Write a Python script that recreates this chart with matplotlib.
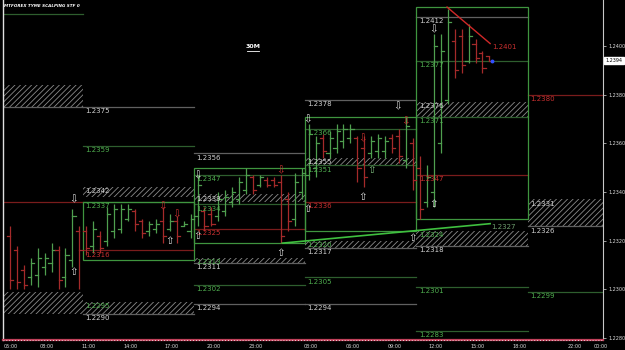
import matplotlib
matplotlib.use('Agg')
import matplotlib.pyplot as plt
from matplotlib.patches import Rectangle
from matplotlib.lines import Line2D

plt.rcParams['hatch.linewidth'] = 0.6
plt.rcParams['font.family'] = ['DejaVu Sans']

# ---------------- data ----------------
# 30-minute OHLC bars (index 0..69)
bar_open = [1.2322, 1.2316, 1.2308, 1.2305, 1.2306, 1.2309, 1.2311, 1.2316, 1.2305, 1.2312,
            1.2324, 1.2324, 1.2318, 1.2322, 1.2320, 1.2324, 1.2325, 1.2329, 1.2332, 1.2328,
            1.2324, 1.2325, 1.2328, 1.2325, 1.2328, 1.2326, 1.2324, 1.2330, 1.2332, 1.2331,
            1.2330, 1.2332, 1.2336, 1.2337, 1.2341, 1.2346, 1.2343, 1.2345, 1.2345, 1.2344,
            1.2337, 1.2329, 1.2340, 1.2347, 1.2350, 1.2362, 1.2356, 1.2358, 1.2361, 1.2362,
            1.2362, 1.2358, 1.2356, 1.2357, 1.2357, 1.2362, 1.2363, 1.2353, 1.2360, 1.2350,
            1.2336, 1.2340, 1.2360, 1.2378, 1.2402, 1.2404, 1.2394, 1.2401, 1.2397, 1.2396]
bar_high = [1.2326, 1.2318, 1.2310, 1.2313, 1.2317, 1.2315, 1.2319, 1.2318, 1.2317, 1.2333,
            1.2326, 1.2326, 1.2328, 1.2324, 1.2334, 1.2335, 1.2335, 1.2335, 1.2333, 1.2329,
            1.2328, 1.2329, 1.2334, 1.2331, 1.2330, 1.2328, 1.2331, 1.2347, 1.2334, 1.2334,
            1.2340, 1.2341, 1.2342, 1.2346, 1.2350, 1.2347, 1.2347, 1.2346, 1.2346, 1.2347,
            1.2340, 1.2348, 1.2350, 1.2368, 1.2363, 1.2364, 1.2365, 1.2368, 1.2368, 1.2368,
            1.2363, 1.2363, 1.2363, 1.2364, 1.2363, 1.2364, 1.2366, 1.2371, 1.2362, 1.2355,
            1.2351, 1.2405, 1.2405, 1.2415, 1.2407, 1.2407, 1.2409, 1.2403, 1.2398, 1.2396]
bar_low = [1.2300, 1.2300, 1.2300, 1.2302, 1.2301, 1.2306, 1.2307, 1.2300, 1.2301, 1.2309,
           1.2300, 1.2314, 1.2315, 1.2315, 1.2318, 1.2321, 1.2323, 1.2328, 1.2324, 1.2321,
           1.2322, 1.2323, 1.2319, 1.2324, 1.2319, 1.2326, 1.2321, 1.2326, 1.2324, 1.2326,
           1.2328, 1.2330, 1.2334, 1.2335, 1.2339, 1.2339, 1.2342, 1.2342, 1.2342, 1.2319,
           1.2324, 1.2326, 1.2337, 1.2345, 1.2346, 1.2354, 1.2354, 1.2356, 1.2358, 1.2360,
           1.2344, 1.2342, 1.2354, 1.2354, 1.2354, 1.2356, 1.2352, 1.2350, 1.2341, 1.2329,
           1.2334, 1.2334, 1.2356, 1.2376, 1.2387, 1.2389, 1.2393, 1.2393, 1.2389, 1.2394]
bar_close = [1.2304, 1.2303, 1.2302, 1.2311, 1.2313, 1.2313, 1.2316, 1.2304, 1.2314, 1.2330,
             1.2316, 1.2317, 1.2325, 1.2317, 1.2331, 1.2333, 1.2333, 1.2333, 1.2327, 1.2323,
             1.2327, 1.2327, 1.2322, 1.2328, 1.2322, 1.2327, 1.2329, 1.2343, 1.2326, 1.2327,
             1.2337, 1.2338, 1.2340, 1.2344, 1.2347, 1.2341, 1.2346, 1.2343, 1.2343, 1.2322,
             1.2328, 1.2344, 1.2348, 1.2364, 1.2360, 1.2357, 1.2362, 1.2365, 1.2366, 1.2366,
             1.2350, 1.2346, 1.2361, 1.2362, 1.2361, 1.2358, 1.2355, 1.2367, 1.2345, 1.2333,
             1.2346, 1.2400, 1.2398, 1.2410, 1.2390, 1.2392, 1.2404, 1.2395, 1.2391, 1.2394]

# session blocks (in bar-index units)
block_start = [-1.0, 10.5, 26.5, 42.5, 58.5, 74.5]
block_end = [10.5, 26.5, 42.5, 58.5, 74.5, 85.4]

# horizontal levels: block, price, colour kind, label
line_block = [0, 0, 0,
              1, 1, 1, 1, 1,
              2, 2, 2, 2, 2, 2, 2,
              3, 3, 3, 3, 3, 3, 3,
              4, 4, 4, 4, 4, 4, 4,
              5, 5, 5]
line_price = [1.2413, 1.2375, 1.2336,
              1.2375, 1.2359, 1.2336, 1.2316, 1.2290,
              1.2356, 1.2347, 1.2335, 1.2325, 1.2311, 1.2302, 1.2294,
              1.2378, 1.2366, 1.2351, 1.2336, 1.2317, 1.2305, 1.2294,
              1.2412, 1.2394, 1.2371, 1.2347, 1.2318, 1.2301, 1.2283,
              1.2380, 1.2326, 1.2299]
line_kind = ['g', 'w', 'r',
             'w', 'g', 'g', 'r', 'w',
             'w', 'g', 'g', 'r', 'w', 'g', 'w',
             'w', 'g', 'g', 'r', 'w', 'g', 'w',
             'w', 'g', 'g', 'r', 'w', 'g', 'g',
             'r', 'w', 'g']
line_label = ['', '', '',
              '1.2375', '1.2359', '1.2337', '1.2316', '1.2290',
              '1.2356', '1.2347', '1.2334', '1.2325', '1.2311', '1.2302', '1.2294',
              '1.2378', '1.2366', '1.2351', '1.2336', '1.2317', '1.2305', '1.2294',
              '1.2412', '1.2377', '1.2371', '1.2347', '1.2318', '1.2301', '1.2283',
              '1.2380', '1.2326', '1.2299']

# hatched zones: block, top, bottom, label
zone_block = [0, 0, 1, 1, 2, 2, 3, 3, 4, 4, 5]
zone_top = [1.2384, 1.2299, 1.2342, 1.2295, 1.2339, 1.2313, 1.2354, 1.2320, 1.2377, 1.2324, 1.2337]
zone_bottom = [1.2375, 1.2290, 1.2338, 1.2290, 1.2336, 1.2311, 1.2351, 1.2317, 1.2371, 1.2318, 1.2326]
zone_label = ['', '', '1.2342', '1.2295', '1.2339', '1.2313', '1.2355', '1.2320', '1.2376', '1.2324', '1.2331']
zone_kind = ['w', 'w', 'w', 'g', 'w', 'g', 'w', 'g', 'w', 'g', 'w']

# session boxes: block, top, bottom
box_block = [1, 2, 3, 4]
box_top = [1.2336, 1.2350, 1.2371, 1.2416]
box_bottom = [1.2312, 1.2319, 1.2324, 1.2329]

# signal arrows
arrow_x = [9.1, 9.1, 22.0, 24.0, 23.0, 27.0, 27.0, 39.0, 39.0, 42.9, 42.9, 50.8, 50.8, 52.0,
           55.8, 56.9, 58.0, 60.9, 60.9]
arrow_p = [1.2337, 1.2307, 1.2334, 1.2331, 1.2320, 1.2347, 1.2322, 1.2349, 1.2315, 1.2370,
           1.2333, 1.2362, 1.2338, 1.2349, 1.2375, 1.2369, 1.2321, 1.2407, 1.2335]
arrow_dir = ['d', 'u', 'd', 'd', 'u', 'd', 'u', 'd', 'u', 'd', 'u', 'd', 'u', 'u', 'd', 'd', 'u', 'd', 'u']
arrow_col = ['w', 'w', 'r', 'r', 'w', 'w', 'w', 'r', 'w', 'w', 'w', 'r', 'w', 'g', 'w', 'r', 'w', 'w', 'w']

# trend lines
green_trend_x = [39.2, 69.1]
green_trend_p = [1.2319, 1.2327]
red_trend_x = [62.9, 69.1]
red_trend_p = [1.2416, 1.2401]
current_price = 1.2394
current_x = 69.4

# axes labels
time_labels = ['05:00', '08:00', '11:00', '14:00', '17:00', '20:00', '23:00', '03:00',
               '06:00', '09:00', '12:00', '15:00', '18:00', '22:00', '00:00']
time_pos = [0.1, 5.3, 11.3, 17.3, 23.3, 29.3, 35.3, 43.3, 49.3, 55.3, 61.3, 67.3, 73.3, 81.3, 85.0]
price_ticks = [1.2280, 1.2300, 1.2320, 1.2340, 1.2360, 1.2380, 1.2400]

# ---------------- styling ----------------
BAR_G = '#4f9f4f'
BAR_R = '#a52a2a'
LINE_COL = {'w': '#606060', 'g': '#2e5e2e', 'r': '#7a1c1c'}
TXT_COL = {'w': '#d0d0d0', 'g': '#4fae4f', 'r': '#c83030'}
ARROW_COL = {'w': '#e0e0e0', 'r': '#c83030', 'g': '#7fbf7f'}
BOX_COL = '#3f953f'
FS = 5

fig = plt.figure(figsize=(6.25, 3.5), dpi=100, facecolor='black')
ax = fig.add_axes([3 / 625, 10 / 350, 600 / 625, 340 / 350])
ax.set_facecolor('black')
ax.set_xlim(-0.99, 85.34)
ax.set_ylim(1.22792, 1.24189)

# hatched zones
for b, t, bt, lab, k in zip(zone_block, zone_top, zone_bottom, zone_label, zone_kind):
    x0, x1 = block_start[b], block_end[b]
    ax.add_patch(Rectangle((x0, bt), x1 - x0, t - bt, facecolor='black',
                           edgecolor='#8a8a8a', hatch='//////', linewidth=0, zorder=1))
    if lab:
        ax.text(x0 + 0.35, t - 0.00005, lab, color=TXT_COL[k], fontsize=FS,
                va='top', ha='left', zorder=5)

# level lines
for b, p, k, lab in zip(line_block, line_price, line_kind, line_label):
    x0, x1 = block_start[b], block_end[b]
    ax.plot([x0, x1], [p, p], color=LINE_COL[k], lw=0.9, zorder=2)
    if lab:
        ax.text(x0 + 0.35, p - 0.00006, lab, color=TXT_COL[k], fontsize=FS,
                va='top', ha='left', zorder=5)

# session boxes
for b, t, bt in zip(box_block, box_top, box_bottom):
    x0, x1 = block_start[b], block_end[b]
    ax.add_patch(Rectangle((x0, bt), x1 - x0, t - bt, facecolor='none',
                           edgecolor=BOX_COL, linewidth=0.9, zorder=3))

# OHLC bars
for i, (o, h, l, c) in enumerate(zip(bar_open, bar_high, bar_low, bar_close)):
    col = BAR_G if c >= o else BAR_R
    ax.plot([i, i], [l, h], color=col, lw=0.9, zorder=4, solid_capstyle='butt')
    ax.plot([i - 0.45, i], [o, o], color=col, lw=0.9, zorder=4)
    ax.plot([i, i + 0.45], [c, c], color=col, lw=0.9, zorder=4)

# trend lines
ax.plot(green_trend_x, green_trend_p, color='#3fc03f', lw=1.2, zorder=6)
ax.text(green_trend_x[1] + 0.2, green_trend_p[1] - 0.00002, '1.2327', color='#6f9f6f',
        fontsize=FS, va='top', ha='left', zorder=6)
ax.plot(red_trend_x, red_trend_p, color='#d02828', lw=1.0, zorder=6)
ax.text(red_trend_x[1] + 0.3, red_trend_p[1] - 0.00002, '1.2401', color='#c83030',
        fontsize=FS, va='top', ha='left', zorder=6)
ax.plot([current_x], [current_price], marker='o', ms=1.8, color='#3050ff', zorder=7)

# arrows
for x, p, d, c in zip(arrow_x, arrow_p, arrow_dir, arrow_col):
    ax.text(x, p, '\u21e9' if d == 'd' else '\u21e7', color=ARROW_COL[c], fontsize=7.5,
            ha='center', va='center', zorder=8)

# axes styling
ax.spines['top'].set_visible(False)
ax.spines['left'].set_color('#e0e0e0')
ax.spines['left'].set_linewidth(1.0)
ax.spines['right'].set_color('#c8c8c8')
ax.spines['right'].set_linewidth(0.8)
ax.spines['bottom'].set_color('#c0405a')
ax.spines['bottom'].set_linewidth(1.6)
ax.axhline(1.22792, color='white', lw=0.6, ls=(0, (1, 2.5)), zorder=9, clip_on=False)

ax.yaxis.set_ticks_position('right')
ax.set_yticks(price_ticks)
ax.set_yticklabels(['%.4f' % v for v in price_ticks])
ax.tick_params(axis='y', colors='#dddddd', labelsize=3.5, length=2, width=0.5, pad=2)
ax.set_xticks(time_pos)
ax.set_xticklabels(time_labels)
ax.tick_params(axis='x', colors='#dddddd', labelsize=3.5, length=0, pad=3)

ax.text(1.004, current_price, '1.2394', transform=ax.get_yaxis_transform(), fontsize=3.5,
        color='black', va='center', ha='left', zorder=10,
        bbox=dict(boxstyle='square,pad=0.25', fc='white', ec='white'))

fig.text(4 / 625, 1 - 6 / 350, 'MTFOREX TYME SCALPING STF 0', color='white', fontsize=3.0,
         weight='bold', style='italic', va='center', ha='left')
fig.text(253 / 625, 1 - 47 / 350, '30M', color='white', fontsize=4.5, weight='bold',
         va='center', ha='center')
fig.add_artist(Line2D([247 / 625, 259 / 625], [1 - 51 / 350, 1 - 51 / 350], color='white',
                      lw=0.6, transform=fig.transFigure))

fig.savefig('out.png', dpi=100, facecolor='black')
